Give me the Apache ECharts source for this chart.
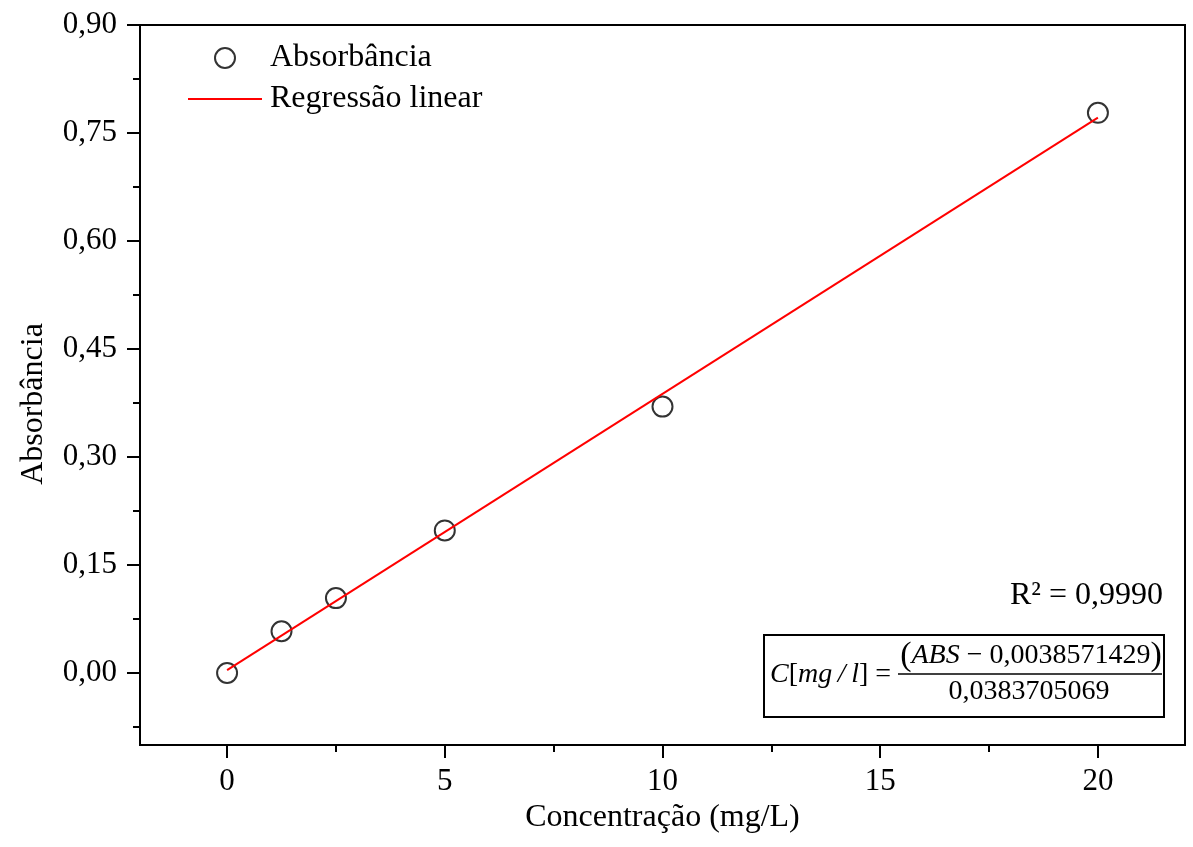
<!DOCTYPE html>
<html>
<head>
<meta charset="utf-8">
<script src="https://cdn.jsdelivr.net/npm/echarts@6/dist/echarts.min.js"></script>
<style>
html,body{margin:0;padding:0;background:#fff;}
#c{width:1193px;height:847px;}
</style>
</head>
<body>
<div id="c"></div>
<script>
// ---- data ----
const concentration = [0, 1.25, 2.5, 5, 10, 20];
const absorbance = [0.000, 0.058, 0.104, 0.198, 0.370, 0.778];
const regressionX = [0, 20];
const regressionY = [0.0039, 0.7713];
const xMajorTicks = [0, 5, 10, 15, 20];
const xMinorTicks = [2.5, 7.5, 12.5, 17.5];
const yMajorTicks = [0, 0.15, 0.30, 0.45, 0.60, 0.75, 0.90];
const yMinorTicks = [-0.075, 0.075, 0.225, 0.375, 0.525, 0.675, 0.825];
const seriesNames = ['Absorbância', 'Regressão linear'];
const xTitle = 'Concentração (mg/L)';
const yTitle = 'Absorbância';
const r2Text = 'R² = 0,9990';
const eqIntercept = '0,0038571429';
const eqSlope = '0,0383705069';

const FONT = '"Liberation Serif", "Times New Roman", serif';
const chart = echarts.init(document.getElementById('c'));

const scatterData = concentration.map((x, i) => [x, absorbance[i]]);
const lineData = regressionX.map((x, i) => [x, regressionY[i]]);

const baseText = {color: '#000', fontFamily: FONT, fontSize: 31};

function xAxisBase() {
  return {type: 'value', min: -2, max: 22, gridIndex: 0, position: 'bottom', splitLine: {show: false}};
}
function yAxisBase() {
  return {type: 'value', min: -0.1, max: 0.9, gridIndex: 0, position: 'left', splitLine: {show: false}};
}
function tickAxis(base, values, len) {
  return Object.assign(base, {
    axisLine: {show: false, onZero: false},
    axisTick: {show: true, inside: false, length: len, lineStyle: {color: '#000', width: 2}, customValues: values},
    axisLabel: {show: false}
  });
}

chart.setOption({
  animation: false,
  backgroundColor: '#fff',
  grid: {left: 140, right: 8, top: 25, bottom: 102, show: true, borderColor: '#000', borderWidth: 2, backgroundColor: 'transparent'},
  legend: {
    orient: 'vertical', left: 188, top: 42, padding: 0,
    itemWidth: 74, itemHeight: 20, itemGap: 9,
    textStyle: Object.assign({}, baseText, {fontSize: 32, padding: [0, 0, 0, 3]}),
    data: [
      {name: seriesNames[0]},
      {name: seriesNames[1], icon: 'path://M0,0 L74,0 L74,2 L0,2 Z'}
    ]
  },
  xAxis: [
    Object.assign(xAxisBase(), {
      name: xTitle, nameLocation: 'middle', nameGap: 52,
      nameTextStyle: Object.assign({}, baseText, {fontSize: 32}),
      axisLine: {show: true, onZero: false, lineStyle: {color: '#000', width: 2}},
      axisTick: {show: false},
      axisLabel: Object.assign({}, baseText, {margin: 21, customValues: xMajorTicks, formatter: v => String(v)})
    }),
    tickAxis(xAxisBase(), xMajorTicks, 13),
    tickAxis(xAxisBase(), xMinorTicks, 7)
  ],
  yAxis: [
    Object.assign(yAxisBase(), {
      name: yTitle, nameLocation: 'middle', nameGap: 90,
      nameTextStyle: Object.assign({}, baseText, {fontSize: 32, padding: [0, 38, 0, 0]}),
      axisLine: {show: true, onZero: false, lineStyle: {color: '#000', width: 2}},
      axisTick: {show: false},
      axisLabel: Object.assign({}, baseText, {margin: 23, customValues: yMajorTicks, formatter: v => v.toFixed(2).replace('.', ',')})
    }),
    tickAxis(yAxisBase(), yMajorTicks, 13),
    tickAxis(yAxisBase(), yMinorTicks, 7)
  ],
  series: [
    {
      name: seriesNames[0], type: 'scatter', xAxisIndex: 0, yAxisIndex: 0,
      symbol: 'circle', symbolSize: 20, z: 2,
      itemStyle: {color: 'transparent', borderColor: '#000', borderWidth: 2},
      data: scatterData
    },
    {
      name: seriesNames[1], type: 'line', xAxisIndex: 0, yAxisIndex: 0,
      symbol: 'none', showSymbol: false, z: 3,
      lineStyle: {color: '#ff0000', width: 2},
      itemStyle: {color: '#ff0000'},
      data: lineData
    }
  ],
  graphic: [
    {type: 'text', right: 30, top: 580, style: {text: r2Text, font: '32px ' + FONT, fill: '#000'}},
    {type: 'rect', shape: {x: 764, y: 635, width: 400, height: 82}, style: {fill: 'transparent', stroke: '#000', lineWidth: 2}},
    {type: 'text', x: 770, y: 675, style: {
      text: '{i|C}[{i|mg\u2009/\u2009l}] =', verticalAlign: 'middle', fill: '#000',
      rich: {i: {fontStyle: 'italic', fontFamily: FONT, fontSize: 28}}, font: '28px ' + FONT}},
    {type: 'text', x: 1031, y: 656, style: {
      text: '{p|(}{i|ABS} − ' + eqIntercept + '{p|)}', align: 'center', verticalAlign: 'middle', fill: '#000',
      rich: {i: {fontStyle: 'italic', fontFamily: FONT, fontSize: 28}, p: {fontFamily: FONT, fontSize: 34}}, font: '28px ' + FONT}},
    {type: 'line', shape: {x1: 898, y1: 674, x2: 1162, y2: 674}, style: {stroke: '#000', lineWidth: 1.5}},
    {type: 'text', x: 1029, y: 692, style: {text: eqSlope, align: 'center', verticalAlign: 'middle', fill: '#000', font: '28px ' + FONT}}
  ]
});
</script>
</body>
</html>
